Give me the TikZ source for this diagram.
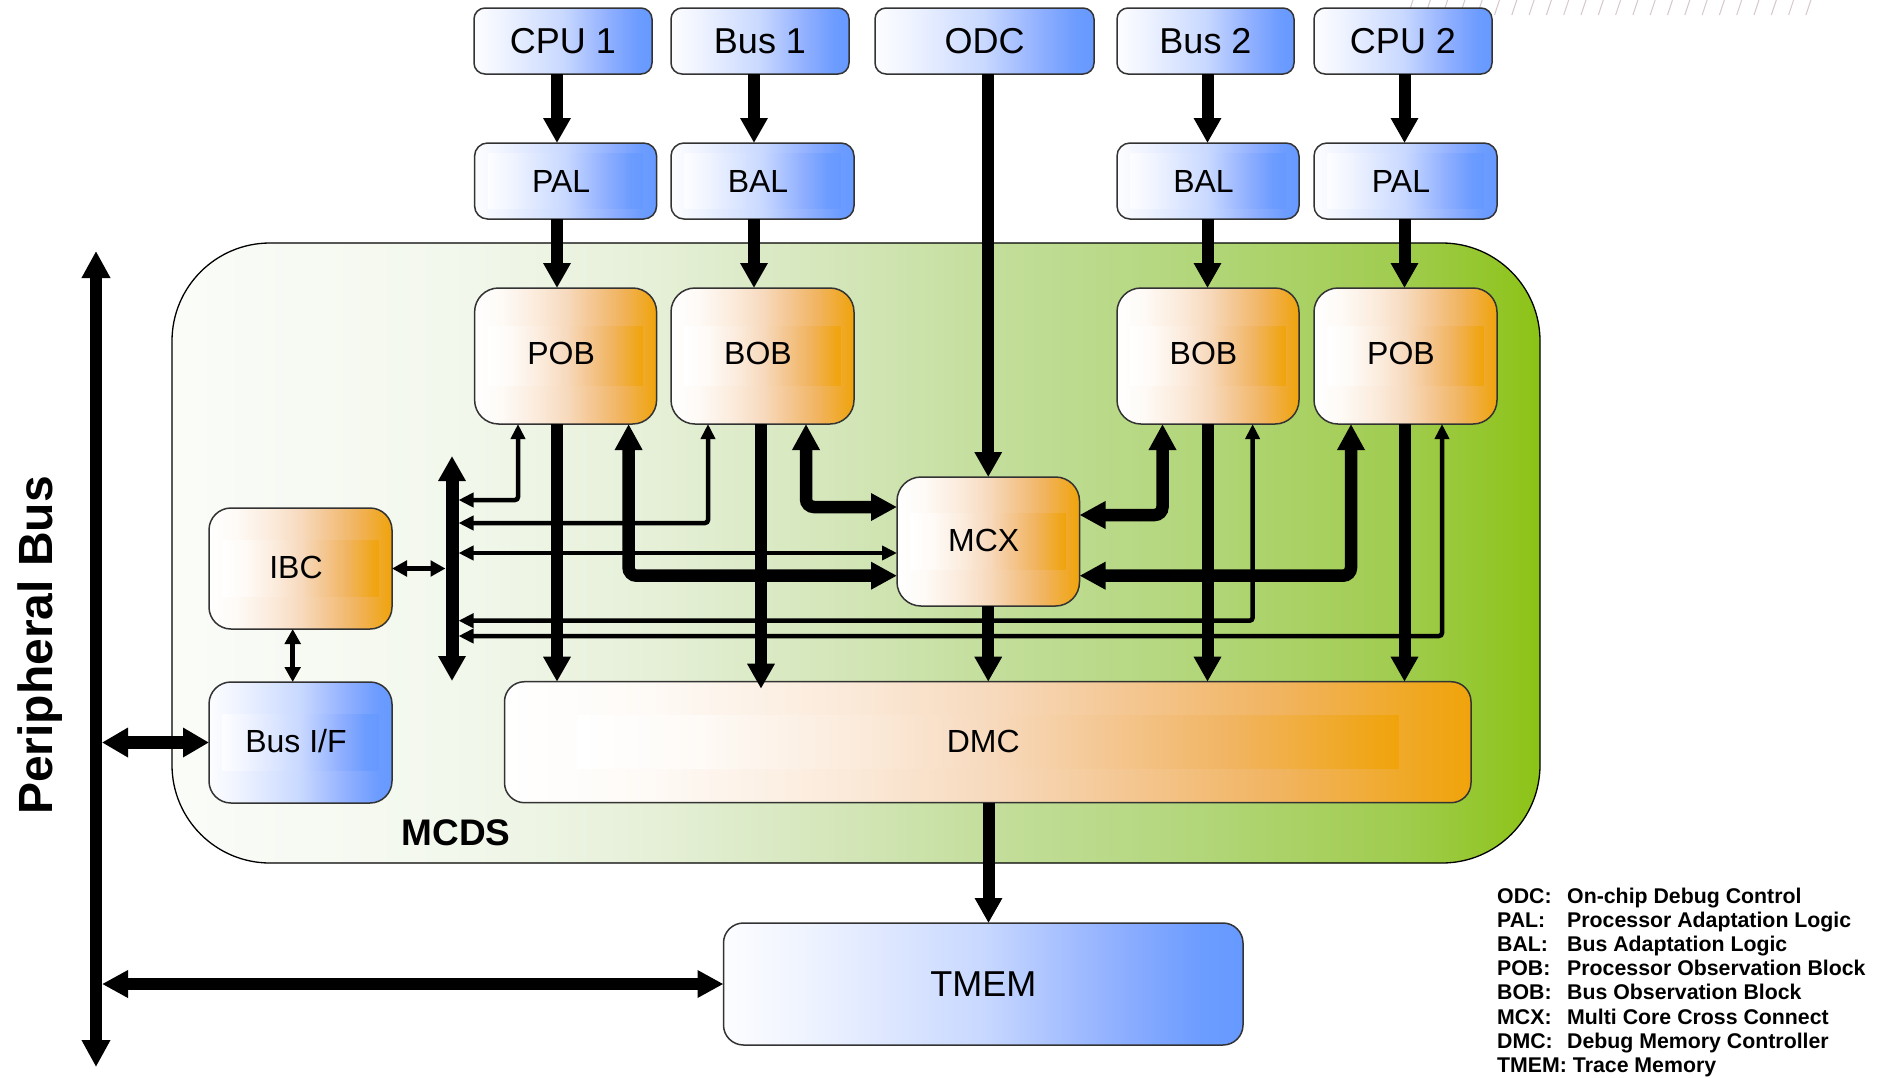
\documentclass[tikz,border=0pt]{standalone}
\usepackage{fontspec}
\setmainfont{Liberation Sans}
\usetikzlibrary{arrows.meta,calc}

% face colours of the blocks
\definecolor{bA}{RGB}{252,253,255}
\definecolor{bB}{RGB}{240,244,255}
\definecolor{bC}{RGB}{200,216,255}
\definecolor{bD}{RGB}{145,176,255}
\definecolor{bE}{RGB}{108,156,255}
\definecolor{bF}{RGB}{102,153,255}
\definecolor{oA}{RGB}{255,255,255}
\definecolor{oB}{RGB}{254,250,246}
\definecolor{oC}{RGB}{251,234,218}
\definecolor{oD}{RGB}{247,218,190}
\definecolor{oE}{RGB}{244,198,144}
\definecolor{oF}{RGB}{241,180,96}
\definecolor{oG}{RGB}{240,163,10}
\definecolor{gA}{RGB}{250,252,248}
\definecolor{gB}{RGB}{243,248,237}
\definecolor{gC}{RGB}{230,240,216}
\definecolor{gD}{RGB}{210,229,182}
\definecolor{gE}{RGB}{195,222,155}
\definecolor{gF}{RGB}{178,214,122}
\definecolor{gG}{RGB}{160,204,78}
\definecolor{gH}{RGB}{140,195,22}
\definecolor{hatchgray}{RGB}{214,200,200}

\pgfdeclarehorizontalshading{blueface}{100bp}{color(0bp)=(bA); color(25bp)=(bA);
  color(32.5bp)=(bB); color(50bp)=(bC); color(62.5bp)=(bD); color(71bp)=(bE);
  color(75bp)=(bF); color(100bp)=(bF)}
\pgfdeclarehorizontalshading{orangeface}{100bp}{color(0bp)=(oA); color(25bp)=(oA);
  color(32.5bp)=(oB); color(42.5bp)=(oC); color(50bp)=(oD); color(57.5bp)=(oE);
  color(65bp)=(oF); color(75bp)=(oG); color(100bp)=(oG)}
\pgfdeclarehorizontalshading{greenface}{100bp}{color(0bp)=(gA); color(25bp)=(gA);
  color(35bp)=(gB); color(42.5bp)=(gC); color(50bp)=(gD); color(55bp)=(gE);
  color(62.5bp)=(gF); color(70bp)=(gG); color(75bp)=(gH); color(100bp)=(gH)}

% block: name, shading, corner radius, centre x, centre y, width, height, inner inset
\newcommand\mkblk[8]{%
  \node[boxline, shading=#2, rounded corners=#3pt,
        minimum width=#6pt, minimum height=#7pt] (#1) at (#4,#5) {};
  \ifdim#8pt>0pt
    \path[shade, shading=#2]
      ($(#1.north west)+({0.075*#6},{#8*#7})$) rectangle
      ($(#1.south east)+({-0.075*#6},{-#8*#7})$);
  \fi
}

\tikzset{
  boxline/.style={rectangle, draw=black!80, line width=1.5pt, shade,
                  inner sep=0pt, outer sep=0pt},
  mcdsbox/.style={rectangle, draw=black, line width=1.3pt, shade, shading=greenface,
                  rounded corners=98pt, inner sep=0pt, outer sep=0pt},
  busbar/.style={rectangle, inner sep=0pt, outer sep=0pt},
  lbl/.style={font=\fontsize{32}{36}\selectfont, text height=22.9pt, text depth=0pt,
              inner sep=0pt, xshift=-4.5pt, yshift=1.5pt},
  lbltall/.style={lbl, yshift=1.5pt},
  lblbig/.style={font=\fontsize{36}{40}\selectfont, text height=25.8pt, text depth=0pt,
                 inner sep=0pt},
  legtxt/.style={font=\bfseries\fontsize{21.3}{24}\selectfont, inner sep=0pt, anchor=base west},
  fat/.style={line width=12pt, -{Triangle[length=25pt,width=26pt]}},
  fatbi/.style={line width=12.5pt, {Triangle[length=26pt,width=26pt]}-{Triangle[length=26pt,width=26pt]},
                rounded corners=8pt},
  fatbitwo/.style={line width=13pt, {Triangle[length=26pt,width=28pt]}-{Triangle[length=26pt,width=28pt]}},
  busarr/.style={line width=13pt, {Triangle[length=25pt,width=26pt]}-{Triangle[length=25pt,width=26pt]}},
  slim/.style={line width=4.5pt, {Triangle[length=15pt,width=14pt]}-{Triangle[length=15pt,width=14pt]},
               rounded corners=3pt},
  slimtwo/.style={line width=5.5pt, {Triangle[length=15pt,width=15.5pt]}-{Triangle[length=15pt,width=15.5pt]}},
  hatchline/.style={draw=hatchgray, line width=1pt},
}

\begin{document}
\begin{tikzpicture}[x=1pt,y=-1pt]
\useasboundingbox (0,0) rectangle (1888,1077);
\fill[white] (0,0) rectangle (1888,1077);

% light hatching along the upper edge
\foreach \k in {0,...,23}
  \draw[hatchline] ({1408+17.3*\k},15) -- ({1413+17.3*\k},0);

% MCDS region
\node[mcdsbox, minimum width=1368pt, minimum height=620pt] (mcds) at (856,553) {};

% signal columns and rows
\coordinate (v0) at (292.7,0);
\coordinate (v1) at (557,0);
\coordinate (v2) at (518,0);
\coordinate (v3) at (628.6,0);
\coordinate (v4) at (708,0);
\coordinate (v5) at (754,0);
\coordinate (v6) at (761,0);
\coordinate (v7) at (806,0);
\coordinate (v8) at (988.5,0);
\coordinate (v9) at (1162.5,0);
\coordinate (v10) at (1207.5,0);
\coordinate (v11) at (1252.6,0);
\coordinate (v12) at (1351,0);
\coordinate (v13) at (1404.5,0);
\coordinate (v14) at (1442,0);
\coordinate (h1) at (0,500);
\coordinate (h2) at (0,523);
\coordinate (h3) at (0,507);
\coordinate (h4) at (0,515);
\coordinate (h5) at (0,553);
\coordinate (h6) at (0,575.7);
\coordinate (h7) at (0,620.7);
\coordinate (h8) at (0,636);

% blocks
\mkblk{cpu1}{blueface}{11}{563}{41}{178}{66}{0}
\mkblk{bus1}{blueface}{11}{760}{41}{178}{66}{0}
\mkblk{odc}{blueface}{11}{984.5}{41}{219}{66}{0}
\mkblk{bus2}{blueface}{11}{1205.5}{41}{177}{66}{0}
\mkblk{cpu2}{blueface}{11}{1403}{41}{178}{66}{0}
\mkblk{pal1}{blueface}{13}{565.6}{181}{182}{76}{0.14}
\mkblk{bal1}{blueface}{13}{762.5}{181}{183}{76}{0.14}
\mkblk{bal2}{blueface}{13}{1208}{181}{182}{76}{0.14}
\mkblk{pal2}{blueface}{13}{1405.5}{181}{183}{76}{0.14}
\mkblk{pob1}{orangeface}{24}{565.6}{356}{182}{136}{0.28}
\mkblk{bob1}{orangeface}{24}{762.5}{356}{183}{136}{0.28}
\mkblk{bob2}{orangeface}{24}{1208}{356}{182}{136}{0.28}
\mkblk{pob2}{orangeface}{24}{1405.5}{356}{183}{136}{0.28}
\mkblk{mcx}{orangeface}{24}{988.25}{541.5}{182.5}{129}{0.28}
\mkblk{ibc}{orangeface}{22}{300.5}{568.5}{183}{121}{0.27}
\mkblk{busif}{blueface}{22}{300.5}{742.5}{183}{121}{0.27}
\mkblk{dmc}{orangeface}{20}{987.75}{742.2}{966.5}{121}{0.28}
\mkblk{tmem}{blueface}{20}{983.25}{984}{519.5}{122}{0}

% bus bars
\node[busbar, minimum width=13pt, minimum height=225pt] (ibus) at (452,568.5) {};
\node[busbar, minimum width=12pt, minimum height=816pt] (pbus) at (96,659) {};

% feeds from cores and buses
\draw[fat] (cpu1.south -| v1) -- (pal1.north -| v1);
\draw[fat] (bus1.south -| v5) -- (bal1.north -| v5);
\draw[fat] (bus2.south -| v10) -- (bal2.north -| v10);
\draw[fat] (cpu2.south -| v13) -- (pal2.north -| v13);
\draw[fat] (pal1.south -| v1) -- (pob1.north -| v1);
\draw[fat] (bal1.south -| v5) -- (bob1.north -| v5);
\draw[fat] (bal2.south -| v10) -- (bob2.north -| v10);
\draw[fat] (pal2.south -| v13) -- (pob2.north -| v13);
\draw[fat] (mcx.north |- odc.south) -- (mcx.north);

% trace data into the DMC and the trace memory
\draw[fat] (pob1.south -| v1) -- (dmc.north -| v1);
\draw[fat, shorten >=-7pt] (bob1.south -| v6) -- (dmc.north -| v6);
\draw[fat] (mcx.south) -- (dmc.north -| mcx.south);
\draw[fat] (bob2.south -| v10) -- (dmc.north -| v10);
\draw[fat] (pob2.south -| v13) -- (dmc.north -| v13);
\draw[fat] (dmc.south -| v8) -- (tmem.north -| v8);

% cross connect
\draw[fatbi] (pob1.south -| v3) |- (mcx.west |- h6);
\draw[fatbi] (bob1.south -| v7) |- (mcx.west |- h3);
\draw[fatbi] (bob2.south -| v9) |- (mcx.east |- h4);
\draw[fatbi] (pob2.south -| v12) |- (mcx.east |- h6);

% internal bus links
\draw[slim] (pob1.south -| v2) |- (ibus.east |- h1);
\draw[slim] (bob1.south -| v4) |- (ibus.east |- h2);
\draw[slim] (ibus.east |- h5) -- (mcx.west |- h5);
\draw[slim] (bob2.south -| v11) |- (ibus.east |- h7);
\draw[slim] (pob2.south -| v14) |- (ibus.east |- h8);
\draw[slimtwo] (ibc.east) -- (ibus.west |- ibc.east);
\draw[slimtwo] (ibc.south -| v0) -- (busif.north -| v0);

% buses
\draw[busarr] (ibus.north) -- (ibus.south);
\draw[line width=12pt, {Triangle[length=27pt,width=27pt]}-{Triangle[length=27pt,width=27pt]}]
  (pbus.north) -- (pbus.south);
\draw[fatbitwo] (pbus.east |- busif.west) -- (busif.west);
\draw[fatbi] (pbus.east |- tmem.west) -- (tmem.west);

% block labels
\node[lblbig] (cpu1-t) at (cpu1) {CPU 1};
\node[lblbig] (bus1-t) at (bus1) {Bus 1};
\node[lblbig] (odc-t) at (odc) {ODC};
\node[lblbig] (bus2-t) at (bus2) {Bus 2};
\node[lblbig] (cpu2-t) at (cpu2) {CPU 2};
\node[lbl, yshift=-1.5pt] (pal1-t) at (pal1) {PAL};
\node[lbl, yshift=-1.5pt] (bal1-t) at (bal1) {BAL};
\node[lbl, yshift=-1.5pt] (bal2-t) at (bal2) {BAL};
\node[lbl, yshift=-1.5pt] (pal2-t) at (pal2) {PAL};
\node[lbltall] (pob1-t) at (pob1) {POB};
\node[lbltall] (bob1-t) at (bob1) {BOB};
\node[lbltall] (bob2-t) at (bob2) {BOB};
\node[lbltall] (pob2-t) at (pob2) {POB};
\node[lbl] (mcx-t) at (mcx) {MCX};
\node[lbl] (ibc-t) at (ibc) {IBC};
\node[lbl] (busif-t) at (busif) {Bus I/F};
\node[lbl] (dmc-t) at (dmc) {DMC};
\node[lblbig] (tmem-t) at (tmem) {TMEM};

\node[font=\bfseries\fontsize{37}{40}\selectfont, inner sep=0pt, anchor=base] (mcds-t) at (456,845) {MCDS};
\node[font=\bfseries\fontsize{48}{52}\selectfont, inner sep=0pt, rotate=90, anchor=base]
  (pbus-t) at (52,645.5) {Peripheral Bus};

% abbreviations
\foreach \ab/\tx [count=\i] in {ODC:/On-chip Debug Control, PAL:/Processor Adaptation Logic,
    BAL:/Bus Adaptation Logic, POB:/Processor Observation Block, BOB:/Bus Observation Block,
    MCX:/Multi Core Cross Connect, DMC:/Debug Memory Controller} {
  \node[legtxt] (lga\i) at (1497,{903.5+24.1*(\i-1)}) {\ab};
  \node[legtxt] (lgb\i) at (1567,{903.5+24.1*(\i-1)}) {\tx};
}
\node[legtxt] (lga8) at (1497,1072.2) {TMEM: Trace Memory};
\end{tikzpicture}
\end{document}
